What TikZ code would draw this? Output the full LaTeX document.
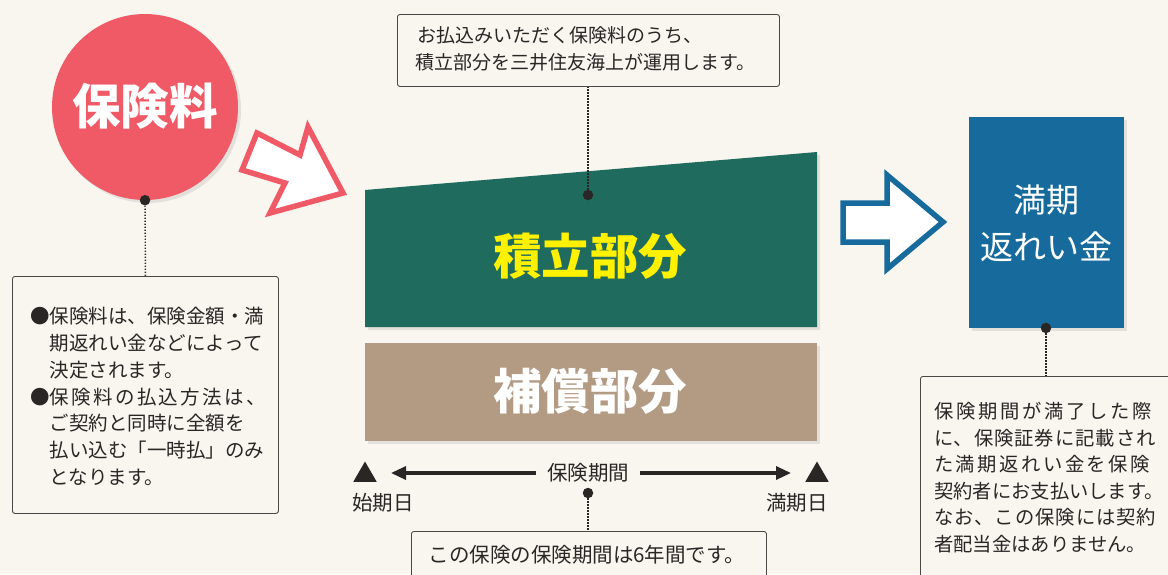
\documentclass[tikz,border=0pt]{standalone}
\usepackage{fontspec}
\setmainfont{Noto Sans CJK JP}
\usetikzlibrary{arrows.meta,shadows,shapes.geometric}
\definecolor{bg}{HTML}{F9F5EF}
\definecolor{pinkc}{HTML}{F05A67}
\definecolor{greenc}{HTML}{1F6B5E}
\definecolor{brownc}{HTML}{B39A83}
\definecolor{bluec}{HTML}{176B9C}
\definecolor{txt}{HTML}{2A2626}
\definecolor{yel}{HTML}{FFF100}
\begin{document}
\begin{tikzpicture}[x=1pt,y=-1pt,
  note/.style={draw=txt!85, line width=0.9pt, rounded corners=2.5pt, fill=bg, inner sep=0pt},
  dotline/.style={dash pattern=on 1.3pt off 1.7pt, line width=1.4pt, draw=txt},
  dotmark/.style={circle, fill=txt, inner sep=0pt, minimum size=10.5pt},
  body/.style={font=\fontsize{19.5}{26.8}\selectfont, text=txt, inner sep=0pt, align=left},
  title/.style={font=\fontsize{48.5}{52}\selectfont\bfseries, inner sep=0pt},
  shade/.style={drop shadow={opacity=0.18, shadow xshift=3pt, shadow yshift=-3pt}},
  hollow/.style={line width=5.5pt, fill=white, line join=miter, miter limit=10},
  tri/.style={regular polygon, regular polygon sides=3, fill=txt, inner sep=0pt, minimum size=27pt},
  tl/.style={line width=3.2pt, draw=txt, -{Triangle[length=15pt,width=13pt]}},
  lbl/.style={font=\fontsize{20.5}{24}\selectfont, text=txt, inner sep=0pt}
]
\useasboundingbox (0,0) rectangle (1168,574);
\fill[bg] (0,0) rectangle (1168,574);
\begin{scope}
\clip (0,0) rectangle (1168,574);

% premium circle
\node[circle, fill=pinkc, minimum size=186pt, inner sep=0pt, shade] (fee) at (145,107) {};
\node[title, text=white] (feetxt) at (145,106) {保険料};
\node[dotmark] (feedot) at (fee.south) {};
\node[note, minimum width=266pt, minimum height=237pt, anchor=north west] (lbox) at (12,276) {};
\draw[dotline] (feedot) -- (lbox.north);
\node[body, anchor=north west] (ltxt) at (30,307) {●保険料は、保険金額・満\\
　期返れい金などによって\\
　決定されます。\\
●{\addfontfeature{LetterSpace=12}保険料の払込方法は、}\\
　ご契約と同時に全額を\\
　払い込む「一時払」のみ\\
　となります。};

% pink hollow arrow
\draw[hollow, draw=pinkc] (257,133) -- (300,155) -- (308,127) -- (343,193) -- (270,213) -- (285,183) -- (242,170) -- cycle;

% accumulation part
\fill[greenc, shade] (365,190) -- (817,152) -- (817,327) -- (365,327) -- cycle;
\node[title, text=yel] (acc) at (590,256) {積立部分};
\node[dotmark] (accdot) at (588,195) {};
\node[note, minimum width=382pt, minimum height=72pt, anchor=north west] (tbox) at (397,14) {};
\draw[dotline] (accdot) -- (accdot |- tbox.south);
\node[body, anchor=north west, font=\fontsize{19}{27}\selectfont] (ttxt) at (415,26) {\hspace{2pt}お払込みいただく保険料のうち、\\積立部分を三井住友海上が運用します。};

% compensation part
\node[rectangle, fill=brownc, minimum width=452pt, minimum height=98pt, inner sep=0pt, anchor=north west, shade] (comp) at (365,343) {};
\node[title, text=white] (comptxt) at (590,391) {補償部分};

% period timeline
\node[tri] (start) at (365,475) {};
\node[tri] (end) at (817,475) {};
\node[lbl, inner xsep=11pt] (period) at (588,473) {保険期間};
\coordinate (la) at (391,473);
\coordinate (ra) at (791,473);
\draw[tl] (period.west) -- (la);
\draw[tl] (period.east) -- (ra);
\node[lbl] (startlbl) at (383,503) {始期日};
\node[lbl] (endlbl) at (797,503) {満期日};
\node[dotmark] (perdot) at (588,493) {};
\node[note, minimum width=355pt, minimum height=80pt, anchor=north west] (bbox) at (411,531) {};
\draw[dotline] (perdot) -- (perdot |- bbox.north);
\node[lbl] (btxt) at (587,555) {この保険の保険期間は6年間です。};

% blue hollow arrow
\draw[hollow, draw=bluec] (843,203) -- (887,203) -- (887,175) -- (943,222) -- (887,269) -- (887,242) -- (843,242) -- cycle;

% maturity refund
\node[rectangle, fill=bluec, minimum width=155pt, minimum height=211pt, inner sep=0pt, anchor=north west, shade] (mat) at (969,117) {};
\node[font=\fontsize{33}{47}\selectfont, text=white, align=center, inner sep=0pt] (mattxt) at (1046,223.5) {満期\\返れい金};
\node[dotmark] (matdot) at (1046,328) {};
\node[note, minimum width=270pt, minimum height=240pt, anchor=north west] (rbox) at (920,376) {};
\draw[dotline] (matdot) -- (matdot |- rbox.north);
\node[body, anchor=north west, font=\fontsize{19.3}{26.6}\selectfont] (rtxt) at (934,402) {{\addfontfeature{LetterSpace=14}保険期間が満了した際}\\
{\addfontfeature{LetterSpace=5}に、保険証券に記載され}\\
{\addfontfeature{LetterSpace=13}た満期返れい金を保険}\\
契約者にお支払いします。\\
{\addfontfeature{LetterSpace=5}なお、この保険には契約}\\
者配当金はありません。};
\end{scope}
\end{tikzpicture}
\end{document}
